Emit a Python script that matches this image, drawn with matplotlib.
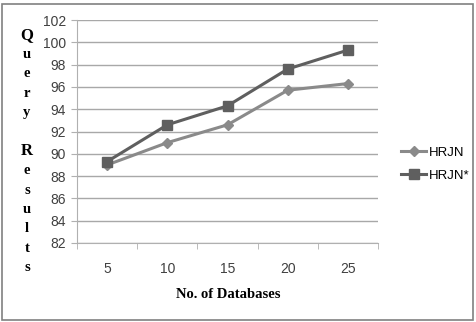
import matplotlib.pyplot as plt
from matplotlib.patches import Rectangle

# data
databases = ['5', '10', '15', '20', '25']
hrjn = [89.0, 91.0, 92.6, 95.7, 96.3]
hrjn_star = [89.3, 92.6, 94.3, 97.6, 99.3]
y_ticks = [82, 84, 86, 88, 90, 92, 94, 96, 98, 100, 102]

W, H = 476, 322
fig = plt.figure(figsize=(W / 100, H / 100), dpi=100)

# plot area in pixels: left 77, right 378, top 20, bottom 243
ax = fig.add_axes([77 / W, 1 - 243 / H, (378 - 77) / W, (243 - 20) / H])

x = list(range(1, len(databases) + 1))
ax.plot(x, hrjn, color='#8a8a8a', lw=2.2, marker='D', ms=5.5, label='HRJN')
ax.plot(x, hrjn_star, color='#5f5f5f', lw=2.2, marker='s', ms=7, label='HRJN*')

ax.set_xlim(0.5, 5.5)
ax.set_ylim(82, 102)
ax.set_yticks(y_ticks)
ax.set_xticks(x)
ax.set_xticklabels(databases)
ax.set_xticks([i + 0.5 for i in range(0, 6)], minor=True)
ax.tick_params(axis='x', which='major', length=0, pad=14, labelsize=10, colors='#404040')
ax.tick_params(axis='x', which='minor', length=4, color='#b0b0b0', direction='out')
ax.tick_params(axis='y', length=4, color='#b0b0b0', pad=4, labelsize=10, labelcolor='#404040')
for lab in ax.get_xticklabels() + ax.get_yticklabels():
    lab.set_family('Liberation Sans')

ax.grid(axis='y', color='#a8a8a8', lw=1)
ax.set_axisbelow(True)
for s in ['top', 'right']:
    ax.spines[s].set_visible(False)
ax.spines['left'].set_color('#b0b0b0')
ax.spines['bottom'].set_color('#b0b0b0')

leg = fig.legend(loc='upper left', bbox_to_anchor=(396 / W, 1 - 141 / H), frameon=False,
                 prop={'family': 'Liberation Sans', 'size': 9.5}, handlelength=1.9,
                 handletextpad=0.2, labelspacing=0.85, borderaxespad=0)

# stacked y label
letters = ['Q', 'u', 'e', 'r', 'y', '', 'R', 'e', 's', 'u', 'l', 't', 's']
y0 = 35
for i, ch in enumerate(letters):
    fig.text(27 / W, 1 - (y0 + i * 19.4) / H, ch, ha='center', va='center',
             family='Liberation Serif', fontweight='bold', fontsize=12 if ch.isupper() else 10.5)

fig.text(228 / W, 1 - 295 / H, 'No. of Databases', ha='center', va='center',
         family='Liberation Serif', fontweight='bold', fontsize=10.5)

fig.patches.append(Rectangle((2 / W, 1 - 320 / H), 471 / W, 316 / H, transform=fig.transFigure,
                             fill=False, edgecolor='#808080', lw=1.2))

fig.savefig('out.png', dpi=100)
